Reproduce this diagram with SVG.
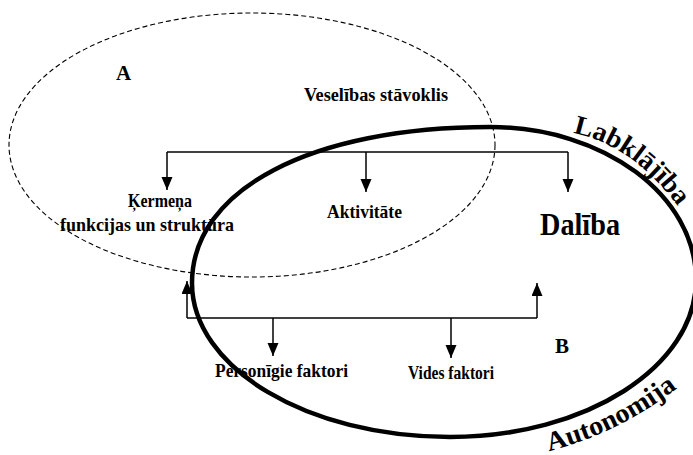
<svg xmlns="http://www.w3.org/2000/svg" width="693" height="455" viewBox="0 0 693 455">
<style>
.lbl{font-family:"Liberation Serif","Times New Roman",serif;font-weight:bold;fill:#000}
.conn{stroke:#000;stroke-width:1.5;fill:none}
</style>
<defs>
<marker id="ah" markerUnits="userSpaceOnUse" markerWidth="14" markerHeight="12" refX="13" refY="5.5" orient="auto">
<path d="M0,0 L13,5.5 L0,11 z" fill="#000"/>
</marker>
<path id="pLab" d="M573,133 Q638,146 686,218"/>
<path id="pAut" d="M549,451 Q625,432 690,378"/>
</defs>
<rect width="693" height="455" fill="#fff"/>
<g id="regionA">
<ellipse cx="252" cy="145" rx="243" ry="132" fill="none" stroke="#000" stroke-width="1.1" stroke-dasharray="5 3"/>
</g>
<g id="regionB">
<path d="M490,127 C603.8,127 696,195.5 696,280 C696,366.7 585.9,437 450,437 C307.5,437 192,368 192,283 C192,189.4 311.2,127 490,127 Z" fill="none" stroke="#000" stroke-width="4.5"/>
</g>
<g id="connectors">
<line class="conn" x1="167" y1="152" x2="568" y2="152"/>
<line class="conn" x1="167" y1="152" x2="167" y2="190" marker-end="url(#ah)"/>
<line class="conn" x1="366" y1="152" x2="366" y2="192" marker-end="url(#ah)"/>
<line class="conn" x1="568" y1="152" x2="568" y2="192" marker-end="url(#ah)"/>
<line class="conn" x1="187" y1="318" x2="537" y2="318"/>
<line class="conn" x1="187" y1="318" x2="187" y2="281" marker-end="url(#ah)"/>
<line class="conn" x1="537" y1="318" x2="537" y2="283" marker-end="url(#ah)"/>
<line class="conn" x1="273" y1="318" x2="273" y2="356" marker-end="url(#ah)"/>
<line class="conn" x1="451" y1="318" x2="451" y2="358" marker-end="url(#ah)"/>
</g>
<g id="labelA"><text class="lbl" x="116" y="80" font-size="21">A</text></g>
<g id="labelB"><text class="lbl" x="555" y="353" font-size="21">B</text></g>
<g id="veselibas"><text class="lbl" x="304" y="101" font-size="18" textLength="144" lengthAdjust="spacingAndGlyphs">Veselības stāvoklis</text></g>
<g id="kermena">
<text class="lbl" x="128" y="207" font-size="19" textLength="64" lengthAdjust="spacingAndGlyphs">Ķermeņa</text>
<text class="lbl" x="60" y="231" font-size="19" textLength="174" lengthAdjust="spacingAndGlyphs">funkcijas un struktūra</text>
</g>
<g id="aktivitate"><text class="lbl" x="327" y="218" font-size="19" textLength="75" lengthAdjust="spacingAndGlyphs">Aktivitāte</text></g>
<g id="daliba"><text class="lbl" x="540" y="235" font-size="32" textLength="80" lengthAdjust="spacingAndGlyphs">Dalība</text></g>
<g id="personigie"><text class="lbl" x="215" y="377" font-size="19" textLength="133" lengthAdjust="spacingAndGlyphs">Personīgie faktori</text></g>
<g id="vides"><text class="lbl" x="408" y="379" font-size="19" textLength="86" lengthAdjust="spacingAndGlyphs">Vides faktori</text></g>
<g id="labklajiba"><text class="lbl" font-size="27"><textPath href="#pLab" textLength="131" lengthAdjust="spacingAndGlyphs">Labklājība</textPath></text></g>
<g id="autonomija"><text class="lbl" font-size="27"><textPath href="#pAut" textLength="144" lengthAdjust="spacingAndGlyphs">Autonomija</textPath></text></g>
</svg>
